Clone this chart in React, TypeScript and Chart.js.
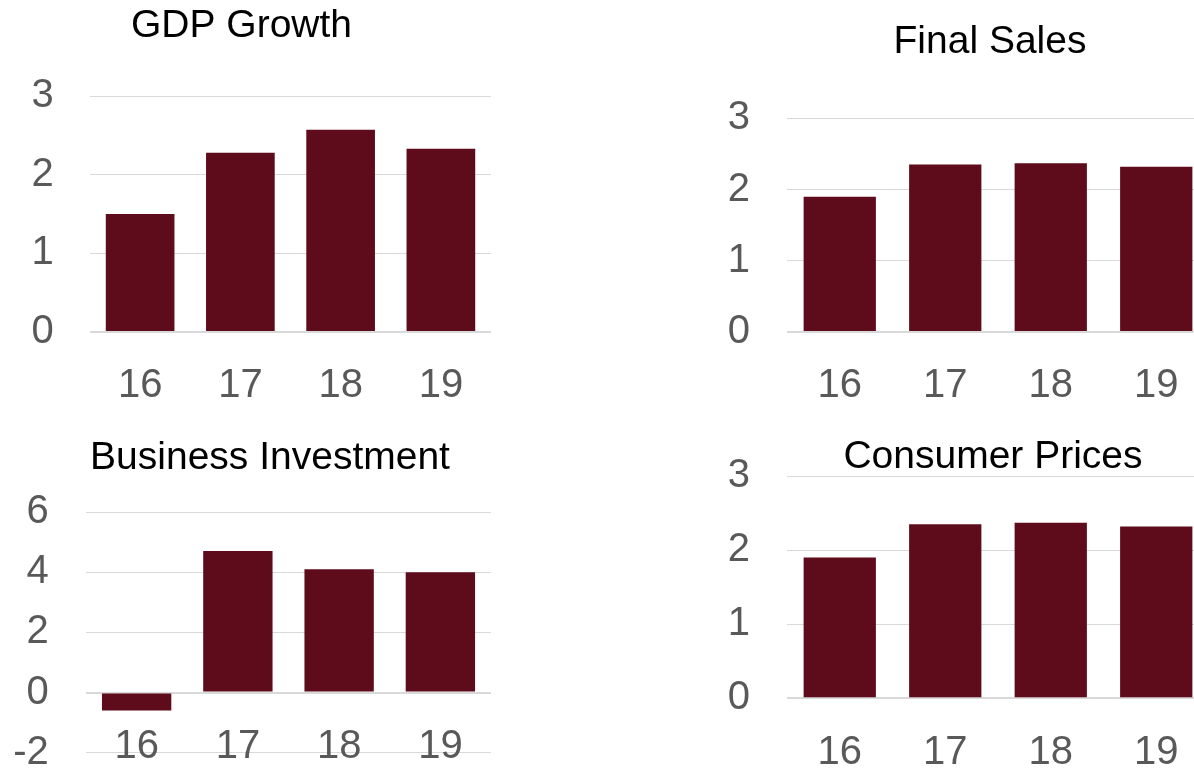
import React, { useEffect, useRef } from "react";
import { Chart, registerables } from "chart.js";

Chart.register(...registerables);

// ---- data ----
const years = ["16", "17", "18", "19"];
const gdpGrowth = [1.5, 2.28, 2.57, 2.33];
const finalSales = [1.9, 2.35, 2.37, 2.32];
const businessInvestment = [-0.6, 4.7, 4.1, 4.0];
const consumerPrices = [1.9, 2.35, 2.37, 2.32];

const titles = ["GDP Growth", "Final Sales", "Business Investment", "Consumer Prices"];
const yMins = [0, 0, -2, 0];
const yMaxs = [3, 3, 6, 3];
const ySteps = [1, 1, 2, 1];

// ---- styles ----
const FONT = "'Liberation Sans', Arial, Helvetica, sans-serif";
const BAR = "#5E0B1B";
const GRID = "#D9D9D9";
const TICK = "#595959";
const TICK_SIZE = 40;
const TITLE_SIZE = 39;

type Layout = {
  left: number;
  top: number;
  width: number;
  height: number;
  padLeft: number;
  padBottom: number;
  yWidth: number;
  rightWidth: number;
  yPad: number;
  xPad: number;
  titleTop: number;
  titleBottom: number;
};

const layouts: Layout[] = [
  { left: -10, top: 0, width: 501, height: 420, padLeft: 2, padBottom: 88, yWidth: 98, rightWidth: 0, yPad: 36.3, xPad: 25.5, titleTop: 6.9, titleBottom: 50.1 },
  { left: 690, top: 0, width: 570, height: 420, padLeft: 30, padBottom: 88, yWidth: 67, rightWidth: 51, yPad: 37, xPad: 26, titleTop: 22.9, titleBottom: 56.4 },
  { left: 0, top: 420, width: 535, height: 349, padLeft: 5, padBottom: 16.3, yWidth: 81, rightWidth: 44, yPad: 37.3, xPad: 26, titleTop: 18.9, titleBottom: 34.1 },
  { left: 690, top: 420, width: 576, height: 349, padLeft: 30, padBottom: 70.7, yWidth: 67, rightWidth: 57, yPad: 37, xPad: 27, titleTop: 17.9, titleBottom: -0.9 },
];

function MiniChart(props: { idx: number; values: number[] }) {
  const ref = useRef<HTMLCanvasElement | null>(null);
  const { idx, values } = props;
  const lay = layouts[idx];

  useEffect(() => {
    if (!ref.current) return;
    const chart = new Chart(ref.current, {
      type: "bar",
      data: {
        labels: years,
        datasets: [
          {
            data: values,
            backgroundColor: BAR,
            borderWidth: 0,
            categoryPercentage: 1,
            barPercentage: 0.685,
          },
        ],
      },
      options: {
        responsive: false,
        animation: false,
        devicePixelRatio: 1,
        layout: {
          padding: { left: lay.padLeft, right: 0, top: 0, bottom: lay.padBottom },
        },
        plugins: {
          legend: { display: false },
          tooltip: { enabled: false },
          title: {
            display: true,
            text: titles[idx],
            color: "#000000",
            font: { family: FONT, size: TITLE_SIZE, weight: "normal", lineHeight: 1 },
            padding: { top: lay.titleTop, bottom: lay.titleBottom },
          },
        },
        scales: {
          x: {
            position: { y: 0 } as any,
            grid: { display: false },
            border: { display: false },
            ticks: {
              color: TICK,
              padding: lay.xPad,
              maxRotation: 0,
              font: { family: FONT, size: TICK_SIZE, lineHeight: 1 },
            },
            afterFit: (s: any) => {
              s.paddingLeft = 0;
              s.paddingRight = 0;
              s.paddingTop = 0;
              s.paddingBottom = 0;
            },
          },
          y: {
            min: yMins[idx],
            max: yMaxs[idx],
            border: { display: false },
            grid: {
              color: GRID,
              drawTicks: false,
              lineWidth: (c: any) => (c.tick && c.tick.value === 0 ? 2 : 1),
            },
            ticks: {
              stepSize: ySteps[idx],
              color: TICK,
              padding: lay.yPad,
              font: { family: FONT, size: TICK_SIZE, lineHeight: 1 },
            },
            afterFit: (s: any) => {
              s.width = lay.yWidth;
              s.paddingTop = 0;
              s.paddingBottom = 0;
            },
          },
          spacer: {
            type: "linear",
            position: "right",
            display: true,
            grid: { display: false },
            border: { display: false },
            ticks: { display: false },
            afterFit: (s: any) => {
              s.width = lay.rightWidth;
              s.paddingTop = 0;
              s.paddingBottom = 0;
            },
          },
        },
      },
    });
    return () => chart.destroy();
  }, [idx, values]);

  return (
    <div style={{ position: "absolute", left: lay.left, top: lay.top, width: lay.width, height: lay.height }}>
      <canvas ref={ref} width={lay.width} height={lay.height} style={{ display: "block", width: lay.width, height: lay.height }} />
    </div>
  );
}

export default function App() {
  return (
    <div
      style={{
        position: "fixed",
        left: 0,
        top: 0,
        width: 1194,
        height: 769,
        overflow: "hidden",
        background: "#ffffff",
      }}
    >
      <MiniChart idx={0} values={gdpGrowth} />
      <MiniChart idx={1} values={finalSales} />
      <MiniChart idx={2} values={businessInvestment} />
      <MiniChart idx={3} values={consumerPrices} />
    </div>
  );
}
